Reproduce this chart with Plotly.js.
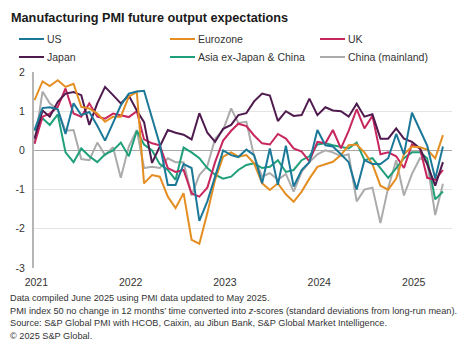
<!DOCTYPE html>
<html>
<head>
<meta charset="utf-8">
<script src="https://cdn.plot.ly/plotly-3.0.1.min.js"></script>
<style>html,body{margin:0;padding:0;background:#fff;}#chart{width:470px;height:362px;}</style>
</head>
<body>
<div id="chart"></div>
<script>
// Monthly observations, Jan 2021 .. May 2025
var startYear = 2021, nMonths = 53;
var months = [];
for (var k = 0; k < nMonths; k++) {
  var yy = startYear + Math.floor(k / 12), mm = (k % 12) + 1;
  months.push(yy + '-' + (mm < 10 ? '0' + mm : mm) + '-01');
}

var seriesNames = ['US', 'Eurozone', 'UK', 'Japan', 'Asia ex-Japan & China', 'China (mainland)'];

var us = [0.52, 1.08, 1.10, 1.05, 0.42, 1.20, 0.90, 0.98, 0.63, 0.25, 0.70, 1.15,
          1.45, 1.50, 1.52, 0.85, 0.15, -0.88, -0.88, -0.35, -0.45, -1.80, -1.30, -0.67,
          0.00, -0.12, -0.17, 0.02, -0.12, -0.84, 0.05, -0.88, 0.12, -0.92, -0.50, -0.30,
          0.52, 0.13, 0.10, -0.10, -0.30, -1.00, -0.25, -0.35, -0.35, -0.20, 0.42, -0.10,
          0.96, 0.52, 0.12, -0.72, 0.10];
var eurozone = [1.28, 1.76, 1.64, 1.79, 1.62, 1.70, 1.11, 1.07, 0.94, 0.73, 0.86, 0.86,
          1.37, 1.49, -0.84, -0.63, -0.67, -1.18, -1.47, -1.09, -2.28, -2.38, -1.60, -0.75,
          -0.16, -0.05, -0.16, -0.12, -0.33, -0.84, -1.01, -0.84, -1.12, -1.31, -1.05, -0.72,
          -0.42, -0.35, -0.29, -0.12, 0.13, 0.15, -0.05, -0.35, -0.90, -1.00, -0.72, -0.10,
          0.10, 0.08, 0.02, -0.20, 0.39];
var uk = [0.17, 0.86, 0.94, 1.11, 1.58, 0.94, 0.86, 1.20, 0.86, 0.81, 0.94, 0.90,
          0.85, 1.00, 0.28, 0.18, 0.13, -0.45, -0.55, -0.50, -1.10, -1.18, -0.95, -0.30,
          0.25, 0.50, 0.68, 0.62, 0.38, 0.18, 0.15, 0.42, 0.30, 0.05, -0.03, -0.28,
          0.22, 0.18, 0.52, 0.05, 0.50, 1.05, 0.56, 0.88, -0.10, -0.05, -0.15, -0.45,
          0.15, 0.05, -0.70, -0.75, -0.50];
var japan = [0.30, 1.02, 0.86, 1.24, 1.45, 1.49, 1.41, 0.65, 1.20, 1.62, 1.41, 1.20,
          1.40, 1.02, 0.72, -0.32, 0.10, 0.52, 0.45, 0.40, 0.28, 0.95, 0.45, 0.22,
          0.55, 0.65, 0.90, 0.95, 1.25, 1.45, 1.40, 0.75, 1.00, 0.88, 0.90, 1.32,
          0.90, 1.10, 1.02, 1.00, 0.86, 1.19, 0.86, 0.92, 0.30, 0.30, 0.56, 0.30,
          0.22, 0.05, -0.35, -0.90, -0.30];
var asiaExJC = [0.50, 0.82, 0.65, 0.92, -0.05, -0.30, 0.05, -0.15, -0.30, -0.10, 0.00, 0.20,
          -0.15, 0.50, 0.15, 0.00, -0.35, -0.50, -0.75, 0.07, -0.05, -0.20, -0.45, -0.62,
          -0.72, -0.67, -0.50, -0.37, -0.33, -0.45, -0.42, -0.25, -0.55, -0.50, -0.25, -0.15,
          0.15, 0.18, 0.13, 0.08, 0.05, 0.20, -0.25, -0.20, -0.45, -0.70, -0.45, -0.20,
          -0.05, -0.05, -0.20, -1.25, -1.05];
var china = [0.17, 1.50, 1.20, 1.03, 0.50, 0.52, -0.22, -0.25, 0.20, -0.12, 0.08, -0.70,
          0.10, 0.52, -0.45, -0.42, -0.45, -0.20, -0.30, -0.30, -1.15, -0.63, -0.40, 0.30,
          0.52, 1.07, 0.70, 0.73, -0.15, -0.67, -0.58, -0.75, -0.60, -1.05, -0.55, -0.30,
          -0.10, 0.00, -0.05, -0.15, -0.10, -1.30, -1.00, -0.95, -1.85, -0.95, -0.25, -1.15,
          -0.60, -0.20, -0.30, -1.65, -0.85];

var yearTicks = ['2021-01-08', '2022-01-08', '2023-01-08', '2024-01-08', '2025-01-08'];
var yearLabels = ['2021', '2022', '2023', '2024', '2025'];

var titleText = 'Manufacturing PMI future output expectations';
var notes = [
  'Data compiled June 2025 using PMI data updated to May 2025.',
  'PMI index 50 no change in 12 months\u2019 time converted into <i>z</i>-scores (standard deviations from long-run mean).',
  'Source: S&P Global PMI with HCOB, Caixin, au Jibun Bank, S&P Global Market Intelligence.',
  '\u00a9 2025 S&P Global.'
];

// ---- presentation ----
var colors = ['#1b7898', '#e48e22', '#c7265e', '#4f1a4e', '#1f9f7a', '#ababab'];
var seriesValues = [us, eurozone, uk, japan, asiaExJC, china];
var drawOrder = [5, 4, 2, 3, 1, 0];

var W = 470, H = 362, mL = 34, mR = 18, mT = 72, mB = 94;
var pw = W - mL - mR, ph = H - mT - mB;
function px(x) { return (x - mL) / pw; }
function py(y) { return (H - mB - y) / ph; }

var traces = drawOrder.map(function (i) {
  return {
    x: months, y: seriesValues[i], name: seriesNames[i], type: 'scatter', mode: 'lines',
    line: { color: colors[i], width: 2 }, showlegend: false, hoverinfo: 'skip'
  };
});

var font = 'Liberation Sans, Arial, sans-serif';
var annotations = [], shapes = [];
annotations.push({ xref: 'paper', yref: 'paper', x: px(9), y: py(18), xanchor: 'left', yanchor: 'middle',
  text: '<b>' + titleText + '</b>', showarrow: false, font: { family: font, size: 12.7, color: '#1a1a1a' } });

var legCols = [19, 170, 320], legRows = [39, 57];
for (var i = 0; i < seriesNames.length; i++) {
  var cx = legCols[i % 3], cy = legRows[Math.floor(i / 3)];
  shapes.push({ type: 'line', xref: 'paper', yref: 'paper', x0: px(cx), x1: px(cx + 25), y0: py(cy), y1: py(cy),
    line: { color: colors[i], width: 2 } });
  annotations.push({ xref: 'paper', yref: 'paper', x: px(cx + 26), y: py(cy), xanchor: 'left', yanchor: 'middle',
    text: seriesNames[i], showarrow: false, font: { family: font, size: 10.5, color: '#333' } });
}
var noteY = [298, 310.5, 323, 335.5];
for (var n = 0; n < notes.length; n++) {
  annotations.push({ xref: 'paper', yref: 'paper', x: px(8), y: py(noteY[n]), xanchor: 'left', yanchor: 'middle',
    text: notes[n], showarrow: false, font: { family: font, size: 9.2, color: '#333' } });
}

var layout = {
  width: W, height: H, margin: { l: mL, r: mR, t: mT, b: mB },
  paper_bgcolor: '#fff', plot_bgcolor: '#fff', showlegend: false,
  font: { family: font, size: 10, color: '#333' },
  xaxis: { type: 'date', range: ['2020-12-30', '2025-06-05'], tickvals: yearTicks, ticktext: yearLabels,
    showgrid: false, zeroline: false, showline: false, ticks: '', ticklabelstandoff: 6, tickfont: { size: 10.5, color: '#333' } },
  yaxis: { range: [-3, 2], tickvals: [-3, -2, -1, 0, 1, 2], ticktext: ['-3', '-2', '-1', '0', '1', '2'],
    showgrid: true, gridcolor: '#e4e4e4', gridwidth: 1, zeroline: true, zerolinecolor: '#a8a8a8', zerolinewidth: 1,
    showline: true, linecolor: '#b5b5b5', linewidth: 2, ticks: '', ticklabelstandoff: 5, tickfont: { size: 10.5, color: '#333' } },
  annotations: annotations, shapes: shapes
};

Plotly.newPlot('chart', traces, layout, { staticPlot: true, displayModeBar: false });
</script>
</body>
</html>
